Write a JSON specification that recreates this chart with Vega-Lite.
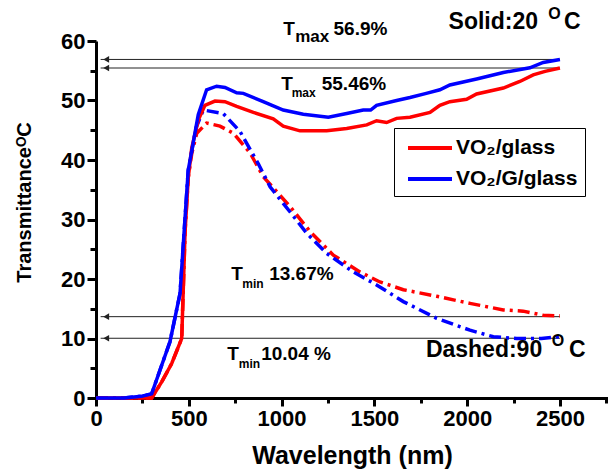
{
  "$schema": "https://vega.github.io/schema/vega-lite/v6.json",
  "width": 512,
  "height": 357,
  "autosize": {"type": "none"},
  "padding": {"left": 96, "top": 41, "right": 0, "bottom": 75},
  "background": "white",
  "config": {
    "font": "Liberation Sans",
    "view": {"stroke": null},
    "axis": {"grid": false}
  },
  "datasets": {
    "curves": [
      {"sample": "VO₂/glass", "temp": "20", "wl": 0, "T": 0},
      {"sample": "VO₂/glass", "temp": "20", "wl": 150, "T": 0},
      {"sample": "VO₂/glass", "temp": "20", "wl": 250, "T": 0},
      {"sample": "VO₂/glass", "temp": "20", "wl": 300, "T": 0},
      {"sample": "VO₂/glass", "temp": "20", "wl": 354, "T": 2.7},
      {"sample": "VO₂/glass", "temp": "20", "wl": 408, "T": 5.8},
      {"sample": "VO₂/glass", "temp": "20", "wl": 462, "T": 10.0},
      {"sample": "VO₂/glass", "temp": "20", "wl": 480, "T": 28},
      {"sample": "VO₂/glass", "temp": "20", "wl": 497, "T": 37},
      {"sample": "VO₂/glass", "temp": "20", "wl": 516, "T": 42},
      {"sample": "VO₂/glass", "temp": "20", "wl": 551, "T": 46.7},
      {"sample": "VO₂/glass", "temp": "20", "wl": 587, "T": 49.2},
      {"sample": "VO₂/glass", "temp": "20", "wl": 641, "T": 49.9},
      {"sample": "VO₂/glass", "temp": "20", "wl": 695, "T": 49.8},
      {"sample": "VO₂/glass", "temp": "20", "wl": 758, "T": 49.0},
      {"sample": "VO₂/glass", "temp": "20", "wl": 848, "T": 48.0},
      {"sample": "VO₂/glass", "temp": "20", "wl": 955, "T": 46.9},
      {"sample": "VO₂/glass", "temp": "20", "wl": 1009, "T": 45.7},
      {"sample": "VO₂/glass", "temp": "20", "wl": 1099, "T": 44.9},
      {"sample": "VO₂/glass", "temp": "20", "wl": 1243, "T": 44.9},
      {"sample": "VO₂/glass", "temp": "20", "wl": 1351, "T": 45.3},
      {"sample": "VO₂/glass", "temp": "20", "wl": 1459, "T": 45.9},
      {"sample": "VO₂/glass", "temp": "20", "wl": 1512, "T": 46.6},
      {"sample": "VO₂/glass", "temp": "20", "wl": 1566, "T": 46.3},
      {"sample": "VO₂/glass", "temp": "20", "wl": 1620, "T": 47.0},
      {"sample": "VO₂/glass", "temp": "20", "wl": 1692, "T": 47.2},
      {"sample": "VO₂/glass", "temp": "20", "wl": 1800, "T": 48.0},
      {"sample": "VO₂/glass", "temp": "20", "wl": 1853, "T": 49.2},
      {"sample": "VO₂/glass", "temp": "20", "wl": 1907, "T": 49.8},
      {"sample": "VO₂/glass", "temp": "20", "wl": 1997, "T": 50.2},
      {"sample": "VO₂/glass", "temp": "20", "wl": 2051, "T": 51.1},
      {"sample": "VO₂/glass", "temp": "20", "wl": 2195, "T": 52.1},
      {"sample": "VO₂/glass", "temp": "20", "wl": 2284, "T": 53.2},
      {"sample": "VO₂/glass", "temp": "20", "wl": 2356, "T": 54.3},
      {"sample": "VO₂/glass", "temp": "20", "wl": 2420, "T": 54.9},
      {"sample": "VO₂/glass", "temp": "20", "wl": 2500, "T": 55.46},

      {"sample": "VO₂/G/glass", "temp": "20", "wl": 0, "T": 0},
      {"sample": "VO₂/G/glass", "temp": "20", "wl": 150, "T": 0},
      {"sample": "VO₂/G/glass", "temp": "20", "wl": 246, "T": 0.3},
      {"sample": "VO₂/G/glass", "temp": "20", "wl": 300, "T": 0.7},
      {"sample": "VO₂/G/glass", "temp": "20", "wl": 345, "T": 4.7},
      {"sample": "VO₂/G/glass", "temp": "20", "wl": 399, "T": 9.5},
      {"sample": "VO₂/G/glass", "temp": "20", "wl": 453, "T": 17.6},
      {"sample": "VO₂/G/glass", "temp": "20", "wl": 497, "T": 38.3},
      {"sample": "VO₂/G/glass", "temp": "20", "wl": 551, "T": 47.6},
      {"sample": "VO₂/G/glass", "temp": "20", "wl": 596, "T": 51.8},
      {"sample": "VO₂/G/glass", "temp": "20", "wl": 650, "T": 52.4},
      {"sample": "VO₂/G/glass", "temp": "20", "wl": 695, "T": 52.2},
      {"sample": "VO₂/G/glass", "temp": "20", "wl": 758, "T": 51.3},
      {"sample": "VO₂/G/glass", "temp": "20", "wl": 794, "T": 51.2},
      {"sample": "VO₂/G/glass", "temp": "20", "wl": 901, "T": 49.8},
      {"sample": "VO₂/G/glass", "temp": "20", "wl": 1009, "T": 48.4},
      {"sample": "VO₂/G/glass", "temp": "20", "wl": 1117, "T": 47.7},
      {"sample": "VO₂/G/glass", "temp": "20", "wl": 1252, "T": 47.2},
      {"sample": "VO₂/G/glass", "temp": "20", "wl": 1351, "T": 47.8},
      {"sample": "VO₂/G/glass", "temp": "20", "wl": 1440, "T": 48.4},
      {"sample": "VO₂/G/glass", "temp": "20", "wl": 1480, "T": 48.4},
      {"sample": "VO₂/G/glass", "temp": "20", "wl": 1512, "T": 49.2},
      {"sample": "VO₂/G/glass", "temp": "20", "wl": 1620, "T": 50.0},
      {"sample": "VO₂/G/glass", "temp": "20", "wl": 1692, "T": 50.5},
      {"sample": "VO₂/G/glass", "temp": "20", "wl": 1780, "T": 51.2},
      {"sample": "VO₂/G/glass", "temp": "20", "wl": 1853, "T": 51.8},
      {"sample": "VO₂/G/glass", "temp": "20", "wl": 1907, "T": 52.6},
      {"sample": "VO₂/G/glass", "temp": "20", "wl": 2051, "T": 53.6},
      {"sample": "VO₂/G/glass", "temp": "20", "wl": 2195, "T": 54.7},
      {"sample": "VO₂/G/glass", "temp": "20", "wl": 2338, "T": 55.5},
      {"sample": "VO₂/G/glass", "temp": "20", "wl": 2410, "T": 56.4},
      {"sample": "VO₂/G/glass", "temp": "20", "wl": 2500, "T": 56.9},

      {"sample": "VO₂/glass", "temp": "90", "wl": 0, "T": 0},
      {"sample": "VO₂/glass", "temp": "90", "wl": 150, "T": 0},
      {"sample": "VO₂/glass", "temp": "90", "wl": 250, "T": 0},
      {"sample": "VO₂/glass", "temp": "90", "wl": 300, "T": 0},
      {"sample": "VO₂/glass", "temp": "90", "wl": 354, "T": 2.7},
      {"sample": "VO₂/glass", "temp": "90", "wl": 408, "T": 5.8},
      {"sample": "VO₂/glass", "temp": "90", "wl": 462, "T": 10.0},
      {"sample": "VO₂/glass", "temp": "90", "wl": 480, "T": 28},
      {"sample": "VO₂/glass", "temp": "90", "wl": 497, "T": 37},
      {"sample": "VO₂/glass", "temp": "90", "wl": 516, "T": 41.1},
      {"sample": "VO₂/glass", "temp": "90", "wl": 543, "T": 44.5},
      {"sample": "VO₂/glass", "temp": "90", "wl": 596, "T": 46.2},
      {"sample": "VO₂/glass", "temp": "90", "wl": 668, "T": 45.7},
      {"sample": "VO₂/glass", "temp": "90", "wl": 740, "T": 44.5},
      {"sample": "VO₂/glass", "temp": "90", "wl": 830, "T": 41.2},
      {"sample": "VO₂/glass", "temp": "90", "wl": 901, "T": 37.2},
      {"sample": "VO₂/glass", "temp": "90", "wl": 1045, "T": 32.2},
      {"sample": "VO₂/glass", "temp": "90", "wl": 1153, "T": 28.0},
      {"sample": "VO₂/glass", "temp": "90", "wl": 1279, "T": 24.0},
      {"sample": "VO₂/glass", "temp": "90", "wl": 1422, "T": 21.2},
      {"sample": "VO₂/glass", "temp": "90", "wl": 1530, "T": 19.5},
      {"sample": "VO₂/glass", "temp": "90", "wl": 1656, "T": 18.2},
      {"sample": "VO₂/glass", "temp": "90", "wl": 1836, "T": 17.1},
      {"sample": "VO₂/glass", "temp": "90", "wl": 2015, "T": 15.9},
      {"sample": "VO₂/glass", "temp": "90", "wl": 2195, "T": 14.8},
      {"sample": "VO₂/glass", "temp": "90", "wl": 2302, "T": 14.6},
      {"sample": "VO₂/glass", "temp": "90", "wl": 2410, "T": 13.9},
      {"sample": "VO₂/glass", "temp": "90", "wl": 2500, "T": 13.8},

      {"sample": "VO₂/G/glass", "temp": "90", "wl": 0, "T": 0},
      {"sample": "VO₂/G/glass", "temp": "90", "wl": 150, "T": 0},
      {"sample": "VO₂/G/glass", "temp": "90", "wl": 246, "T": 0.3},
      {"sample": "VO₂/G/glass", "temp": "90", "wl": 300, "T": 0.7},
      {"sample": "VO₂/G/glass", "temp": "90", "wl": 345, "T": 4.7},
      {"sample": "VO₂/G/glass", "temp": "90", "wl": 399, "T": 9.5},
      {"sample": "VO₂/G/glass", "temp": "90", "wl": 453, "T": 17.6},
      {"sample": "VO₂/G/glass", "temp": "90", "wl": 497, "T": 38.3},
      {"sample": "VO₂/G/glass", "temp": "90", "wl": 540, "T": 45.5},
      {"sample": "VO₂/G/glass", "temp": "90", "wl": 578, "T": 48.4},
      {"sample": "VO₂/G/glass", "temp": "90", "wl": 686, "T": 47.8},
      {"sample": "VO₂/G/glass", "temp": "90", "wl": 776, "T": 44.8},
      {"sample": "VO₂/G/glass", "temp": "90", "wl": 874, "T": 39.4},
      {"sample": "VO₂/G/glass", "temp": "90", "wl": 938, "T": 35.5},
      {"sample": "VO₂/G/glass", "temp": "90", "wl": 1045, "T": 31.3},
      {"sample": "VO₂/G/glass", "temp": "90", "wl": 1135, "T": 27.7},
      {"sample": "VO₂/G/glass", "temp": "90", "wl": 1243, "T": 24.3},
      {"sample": "VO₂/G/glass", "temp": "90", "wl": 1386, "T": 21.2},
      {"sample": "VO₂/G/glass", "temp": "90", "wl": 1512, "T": 19.0},
      {"sample": "VO₂/G/glass", "temp": "90", "wl": 1656, "T": 16.2},
      {"sample": "VO₂/G/glass", "temp": "90", "wl": 1836, "T": 13.4},
      {"sample": "VO₂/G/glass", "temp": "90", "wl": 2015, "T": 11.4},
      {"sample": "VO₂/G/glass", "temp": "90", "wl": 2141, "T": 10.3},
      {"sample": "VO₂/G/glass", "temp": "90", "wl": 2267, "T": 10.0},
      {"sample": "VO₂/G/glass", "temp": "90", "wl": 2400, "T": 10.0},
      {"sample": "VO₂/G/glass", "temp": "90", "wl": 2500, "T": 10.3}
    ],
    "arrows": [
      {"T": 56.9},
      {"T": 55.46},
      {"T": 13.67},
      {"T": 10.04}
    ],
    "notes": [
      {"text": "T", "x": 1040, "y": 62.0, "kind": "main"},
      {"text": "max", "x": 1165, "y": 60.7, "kind": "mid"},
      {"text": "56.9%", "x": 1425, "y": 62.0, "kind": "main"},
      {"text": "T", "x": 1029, "y": 52.8, "kind": "main"},
      {"text": "max", "x": 1119, "y": 51.3, "kind": "sub"},
      {"text": "55.46%", "x": 1390, "y": 52.8, "kind": "main"},
      {"text": "T", "x": 760, "y": 20.8, "kind": "main"},
      {"text": "min", "x": 846, "y": 19.2, "kind": "sub"},
      {"text": "13.67%", "x": 1107, "y": 20.8, "kind": "main"},
      {"text": "T", "x": 738, "y": 7.4, "kind": "main"},
      {"text": "min", "x": 827, "y": 5.7, "kind": "sub"},
      {"text": "10.04 %", "x": 1078, "y": 7.4, "kind": "main"},
      {"text": "Solid:20", "x": 2141, "y": 63.2, "kind": "big"},
      {"text": "O", "x": 2470, "y": 64.6, "kind": "sup"},
      {"text": "C", "x": 2567, "y": 63.2, "kind": "big"},
      {"text": "Dashed:90", "x": 2091, "y": 8.1, "kind": "big"},
      {"text": "O", "x": 2489, "y": 9.6, "kind": "sup"},
      {"text": "C", "x": 2594, "y": 8.1, "kind": "big"}
    ]
  },
  "layer": [
    {
      "data": {"name": "arrows"},
      "mark": {"type": "rule", "color": "#222222", "strokeWidth": 1},
      "encoding": {
        "x": {"datum": 25, "type": "quantitative",
          "scale": {"domain": [0, 2759], "nice": false}, "axis": null},
        "x2": {"datum": 2500},
        "y": {"field": "T", "type": "quantitative",
          "scale": {"domain": [0, 60], "nice": false}, "axis": null}
      }
    },
    {
      "data": {"name": "arrows"},
      "mark": {"type": "point", "shape": "triangle-left", "filled": true, "color": "#222222", "size": 45, "opacity": 1},
      "encoding": {
        "x": {"datum": 55, "type": "quantitative", "axis": null},
        "y": {"field": "T", "type": "quantitative", "axis": null}
      }
    },
    {
      "data": {"name": "curves"},
      "transform": [{"filter": "datum.temp == '90'"}],
      "mark": {"type": "line", "strokeWidth": 3.5, "strokeDash": [12, 5, 3, 5]},
      "encoding": {
        "x": {"field": "wl", "type": "quantitative",
          "axis": {"orient": "bottom", "values": [0, 250, 500, 750, 1000, 1250, 1500, 1750, 2000, 2250, 2500, 2750], "labelExpr": "datum.value % 500 == 0 ? format(datum.value, 'd') : ''", "title": "Wavelength (nm)", "titleFontSize": 25, "titleFontWeight": "bold", "titleColor": "black", "titleBaseline": "middle", "titleY": 57, "labelFontSize": 22, "labelFontWeight": "bold", "labelColor": "black", "labelPadding": 2, "labelFlush": false, "labelOverlap": false, "domainColor": "black", "domainWidth": 3, "tickColor": "black", "tickWidth": 3, "tickSize": {"condition": {"test": "datum.value % 500 == 0", "value": 8}, "value": 5}, "grid": false}},
        "y": {"field": "T", "type": "quantitative",
          "axis": {"orient": "left", "values": [0, 5, 10, 15, 20, 25, 30, 35, 40, 45, 50, 55, 60], "labelExpr": "datum.value % 10 == 0 ? format(datum.value, 'd') : ''", "title": "TransmittanceᴼC", "titleFontSize": 20, "titleFontWeight": "bold", "titleColor": "black", "titleBaseline": "middle", "titleAngle": -90, "titleX": -72, "titleY": 161, "labelFontSize": 22, "labelFontWeight": "bold", "labelColor": "black", "labelPadding": 2, "labelFlush": false, "labelOverlap": false, "domainColor": "black", "domainWidth": 3, "tickColor": "black", "tickWidth": 3, "tickSize": {"condition": {"test": "datum.value % 10 == 0", "value": 9}, "value": 6}, "grid": false}},
        "color": {"field": "sample", "type": "nominal",
          "scale": {"domain": ["VO₂/glass", "VO₂/G/glass"], "range": ["#FF0000", "#0000FF"]},
          "legend": {"orient": "none", "legendX": 298, "legendY": 87, "title": null, "symbolType": "M-2,0H2", "symbolSize": 484, "symbolStrokeWidth": 4, "symbolOffset": 16, "labelOffset": 13, "labelFontSize": 21, "labelFontWeight": "bold", "labelColor": "black", "strokeColor": "black", "padding": 7, "rowPadding": 8, "fillColor": "white"}}
      }
    },
    {
      "data": {"name": "curves"},
      "transform": [{"filter": "datum.temp == '20'"}],
      "mark": {"type": "line", "strokeWidth": 3.5},
      "encoding": {
        "x": {"field": "wl", "type": "quantitative", "axis": null},
        "y": {"field": "T", "type": "quantitative", "axis": null},
        "color": {"field": "sample", "type": "nominal"}
      }
    },
    {
      "data": {"name": "notes"},
      "transform": [{"filter": "datum.kind == 'main'"}],
      "mark": {"type": "text", "fontWeight": "bold", "align": "center", "baseline": "middle", "color": "black", "fontSize": 19},
      "encoding": {
        "x": {"field": "x", "type": "quantitative", "axis": null},
        "y": {"field": "y", "type": "quantitative", "axis": null},
        "text": {"field": "text"}
      }
    },
    {
      "data": {"name": "notes"},
      "transform": [{"filter": "datum.kind == 'sub'"}],
      "mark": {"type": "text", "fontWeight": "bold", "align": "center", "baseline": "middle", "color": "black", "fontSize": 12},
      "encoding": {
        "x": {"field": "x", "type": "quantitative", "axis": null},
        "y": {"field": "y", "type": "quantitative", "axis": null},
        "text": {"field": "text"}
      }
    },
    {
      "data": {"name": "notes"},
      "transform": [{"filter": "datum.kind == 'mid'"}],
      "mark": {"type": "text", "fontWeight": "bold", "align": "center", "baseline": "middle", "color": "black", "fontSize": 17},
      "encoding": {
        "x": {"field": "x", "type": "quantitative", "axis": null},
        "y": {"field": "y", "type": "quantitative", "axis": null},
        "text": {"field": "text"}
      }
    },
    {
      "data": {"name": "notes"},
      "transform": [{"filter": "datum.kind == 'big'"}],
      "mark": {"type": "text", "fontWeight": "bold", "align": "center", "baseline": "middle", "color": "black", "fontSize": 23},
      "encoding": {
        "x": {"field": "x", "type": "quantitative", "axis": null},
        "y": {"field": "y", "type": "quantitative", "axis": null},
        "text": {"field": "text"}
      }
    },
    {
      "data": {"name": "notes"},
      "transform": [{"filter": "datum.kind == 'sup'"}],
      "mark": {"type": "text", "fontWeight": "bold", "align": "center", "baseline": "middle", "color": "black", "fontSize": 16},
      "encoding": {
        "x": {"field": "x", "type": "quantitative", "axis": null},
        "y": {"field": "y", "type": "quantitative", "axis": null},
        "text": {"field": "text"}
      }
    }
  ],
  "resolve": {"axis": {"x": "independent", "y": "independent"}}
}
